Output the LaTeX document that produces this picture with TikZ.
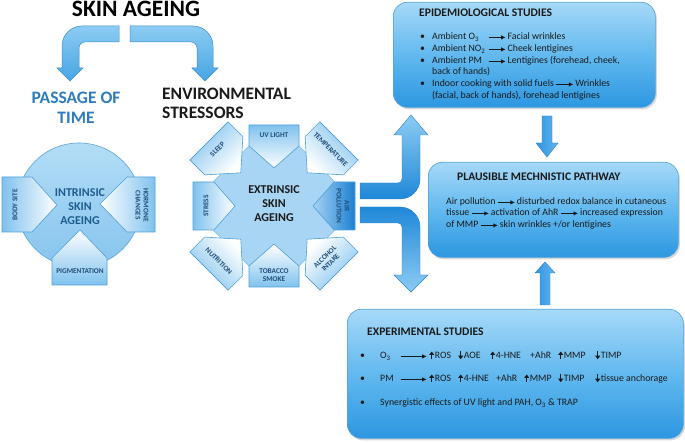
\documentclass[tikz,border=0pt]{standalone}
\usepackage{fontspec}
\setmainfont{Carlito}
\usetikzlibrary{calc,shapes.geometric,arrows.meta,shadows}
\definecolor{ptblue}{HTML}{2E7CC0}
\definecolor{intxt}{HTML}{1F5C8E}
\definecolor{plabc}{HTML}{1F4E79}
\definecolor{pentout}{HTML}{7FC2EE}
\definecolor{pentline}{HTML}{4D9FD8}
\definecolor{txtc}{HTML}{1A1A1A}
\newcommand\rarr[1][17]{\tikz[baseline=-0.55ex]\draw[line width=1pt,-{Latex[length=4.5pt,width=4.5pt]}] (0pt,0pt) -- (#1pt,0pt);}
\newcommand\uarr{\tikz[baseline=0pt]\draw[line width=1pt,-{Triangle[length=3.5pt,width=5pt]}] (0pt,-0.2pt) -- (0pt,7.5pt);\hspace{0.6pt}}
\newcommand\darr{\tikz[baseline=0pt]\draw[line width=1pt,-{Triangle[length=3.5pt,width=5pt]}] (0pt,7.5pt) -- (0pt,-0.2pt);\hspace{0.6pt}}
% #1 dir, #2 Rout, #3 style, #4 shading angle, #5 text angle, #6 text r, #7 name, #8 text, #9 half width
\newcommand\epent[9]{%
  \path[#3, shading angle=#4] ($(ext)+(#1:#2)+(#1+90:#9)$) -- ($(ext)+(#1:#2-21)+(#1+90:#9)$) -- ($(ext)+(#1:#2-21-#9+3)$) -- ($(ext)+(#1:#2-21)+(#1-90:#9)$) -- ($(ext)+(#1:#2)+(#1-90:#9)$) -- cycle;
  \node[plab, rotate=#5] (#7) at ($(ext)+(#1:#6)$) {#8};}
\begin{document}
\begin{tikzpicture}[x=1pt,y=1pt,
  pentb/.style={draw=pentline, line width=0.6pt, top color=pentout, bottom color=white},
  pentd/.style={draw=pentline, line width=0.6pt, top color={rgb,255:red,28;green,128;blue,210}, bottom color={rgb,255:red,165;green,211;blue,243}},
  plab/.style={font=\fontsize{7.3}{8}\selectfont\bfseries, text=plabc, align=center, inner sep=0},
  toparr/.style={draw={rgb,255:red,58;green,143;blue,208}, line width=0.5pt, top color={rgb,255:red,140;green,204;blue,242}, bottom color={rgb,255:red,70;green,165;blue,229}},
  sidearr/.style={draw={rgb,255:red,40;green,130;blue,205}, line width=0.4pt},
  vertarr/.style={draw={rgb,255:red,40;green,130;blue,205}, line width=0.4pt, left color={rgb,255:red,50;green,150;blue,225}, right color={rgb,255:red,95;green,180;blue,238}},
  box/.style={draw={rgb,255:red,79;green,163;blue,220}, line width=0.6pt, rounded corners=14pt, top color={rgb,255:red,166;green,217;blue,248}, bottom color={rgb,255:red,44;green,151;blue,225}, middle color={rgb,255:red,98;green,185;blue,239}, drop shadow={opacity=0.3,shadow xshift=1.5pt,shadow yshift=-2pt}, inner sep=0},
  btitle/.style={anchor=base west, font=\fontsize{11.6}{13}\selectfont\bfseries, inner sep=0, text=txtc},
  btxt/.style={anchor=base west, font=\fontsize{9.8}{11}\selectfont, inner sep=0, text=txtc},
  bigt/.style={font=\fontsize{17.5}{19}\selectfont\bfseries, inner sep=0}
]
\useasboundingbox (0,0) rectangle (685,443);
\fill[white] (0,0) rectangle (685,443);

% title and top arrows
\node[anchor=base, font=\fontsize{23.5}{25}\selectfont\bfseries, inner sep=0] (title) at (136,426) {SKIN AGEING};
\path[toparr] (119,417) -- (82,417) arc[start angle=90,end angle=180,radius=20] -- (62,375) -- (57,375) -- (70,362) -- (83,375) -- (79,375) -- (79,395) arc[start angle=180,end angle=90,radius=6] -- (119,401) -- cycle;
\path[toparr] (130,417) -- (193,417) arc[start angle=90,end angle=0,radius=20] -- (213,375) -- (218,375) -- (205,362) -- (192,375) -- (197,375) -- (197,395) arc[start angle=0,end angle=90,radius=6] -- (130,401) -- cycle;

\node[bigt, anchor=base, text=ptblue] (pt1) at (76,339) {PASSAGE OF};
\node[bigt, anchor=base, text=ptblue] (pt2) at (76,319) {TIME};
\node[bigt, anchor=base west, text=txtc] (es1) at (162,343) {ENVIRONMENTAL};
\node[bigt, anchor=base west, text=txtc] (es2) at (162,324) {STRESSORS};

% intrinsic
\node[circle, minimum size=124, inner sep=0, draw={rgb,255:red,90;green,167;blue,219}, line width=0.6pt, top color={rgb,255:red,179;green,221;blue,246}, bottom color={rgb,255:red,134;green,196;blue,238}] (intr) at (79,238) {};
\path[pentb, shading angle=90] (2,266) -- (32,266) -- (57,238) -- (32,211) -- (2,211) -- cycle;
\node[plab, rotate=90] (bs) at (15,238) {BODY SITE};
\path[pentb, shading angle=-90] (155,266) -- (127,266) -- (100,239) -- (127,211) -- (155,211) -- cycle;
\node[plab, rotate=-90] (hc) at (142,238) {HORMONE\\CHANGES};
\path[pentb, shading angle=180] (52,158) -- (52,185) -- (80,213) -- (107,185) -- (107,158) -- cycle;
\node[plab] (pg) at (80,172) {PIGMENTATION};
\node[align=center, font=\fontsize{12}{14}\selectfont\bfseries, text=intxt, inner sep=0] (intrtxt) at (80,236) {INTRINSIC\\SKIN\\AGEING};

% extrinsic
\node[regular polygon, regular polygon sides=8, minimum size=130, inner sep=0, draw={rgb,255:red,125;green,188;blue,232}, line width=0.5pt, fill={rgb,255:red,168;green,213;blue,243}] (ext) at (274,237) {};
\epent{90}{81}{pentb}{0}{0}{71}{uv}{UV LIGHT}{25}
\epent{45}{92}{pentb}{-45}{-45}{80}{temp}{TEMPERATURE}{27}
\epent{0}{81}{pentd}{-90}{-90}{69}{air}{AIR\\POLLUTION}{24}
\epent{-45}{92}{pentb}{-135}{45}{76}{alc}{ALCOHOL\\INTAKE}{27}
\epent{-90}{81}{pentb}{180}{0}{69}{tob}{TOBACCO\\SMOKE}{25}
\epent{-135}{92}{pentb}{135}{-45}{78}{nut}{NUTRITION}{27}
\epent{180}{81}{pentb}{90}{90}{68}{stress}{STRESS}{24}
\epent{135}{92}{pentb}{45}{45}{80}{sleep}{SLEEP}{27}
\node[align=center, font=\fontsize{12}{14}\selectfont\bfseries, text=txtc, inner sep=0] (exttxt) at (274,239) {EXTRINSIC\\SKIN\\AGEING};

% arrows from air pollution
\path[sidearr, top color={rgb,255:red,140;green,204;blue,243}, bottom color={rgb,255:red,31;green,136;blue,216}] (360,260) -- (398,260) arc[start angle=270,end angle=360,radius=4] -- (402,308) -- (394,308) -- (411,328) -- (428,308) -- (420,308) -- (420,264) arc[start angle=0,end angle=-90,radius=20] -- (360,244) -- cycle;
\path[sidearr, top color={rgb,255:red,31;green,136;blue,216}, bottom color={rgb,255:red,140;green,204;blue,243}] (360,236) -- (400,236) arc[start angle=90,end angle=0,radius=20] -- (420,168) -- (428,168) -- (411,151) -- (394,168) -- (402,168) -- (402,216) arc[start angle=0,end angle=90,radius=4] -- (360,220) -- cycle;

% boxes
\node[box, minimum width=262, minimum height=105, anchor=north west] (epi) at (393,441) {};
\node[box, minimum width=250, minimum height=95, anchor=north west] (mech) at (428,281) {};
\node[box, minimum width=336, minimum height=129, anchor=north west] (exp) at (347,134) {};

% vertical arrows
\path[vertarr] (542,327) -- (542,300) -- (536,300) -- (547,286) -- (558,300) -- (552,300) -- (552,327) -- cycle;
\path[vertarr] (540,138) -- (540,170) -- (535,170) -- (545,181) -- (555,170) -- (550,170) -- (550,138) -- cycle;

% epidemiological text
\node[btitle] (epit) at (419,426) {EPIDEMIOLOGICAL STUDIES};
\node[btxt] (eb1) at (420,403) {•};
\node[btxt] (eb2) at (420,391) {•};
\node[btxt] (eb3) at (420,379) {•};
\node[btxt] (eb4) at (420,356) {•};
\node[btxt] (el1) at (432,403) {\makebox[56pt][l]{Ambient O\textsubscript{3}}\rarr\hspace{1.5pt}Facial wrinkles};
\node[btxt] (el2) at (432,391) {\makebox[56pt][l]{Ambient NO\textsubscript{2}}\rarr\hspace{1.5pt}Cheek lentigines};
\node[btxt] (el3) at (432,379) {\makebox[56pt][l]{Ambient PM}\rarr\hspace{1.5pt}Lentigines (forehead, cheek,};
\node[btxt] (el4) at (432,368) {back of hands)};
\node[btxt] (el5) at (432,356) {Indoor cooking with solid fuels\hspace{2pt}\rarr\hspace{1.5pt}Wrinkles};
\node[btxt] (el6) at (432,344) {(facial, back of hands), forehead lentigines};

% mechanistic text
\node[btitle] (mecht) at (457,262) {PLAUSIBLE MECHNISTIC PATHWAY};
\node[btxt] (ml1) at (446,238) {Air pollution\hspace{2pt}\rarr\hspace{1.5pt}disturbed redox balance in cutaneous};
\node[btxt] (ml2) at (446,227) {tissue\hspace{2pt}\rarr\hspace{1.5pt}activation of AhR\hspace{2pt}\rarr\hspace{1.5pt}increased expression};
\node[btxt] (ml3) at (446,215) {of MMP\hspace{2pt}\rarr\hspace{1.5pt}skin wrinkles +/or lentigines};

% experimental text
\node[btitle] (expt) at (367,107) {EXPERIMENTAL STUDIES};
\node[btxt] (xb1) at (360,84) {•};
\node[btxt] (xb2) at (360,61) {•};
\node[btxt] (xb3) at (360,37) {•};
\node[btxt] (xl1) at (380,84) {\makebox[20pt][l]{O\textsubscript{3}}\rarr[26]\hspace{2pt}\makebox[29pt][l]{\uarr ROS}\makebox[32pt][l]{\darr AOE}\makebox[40pt][l]{\uarr 4-HNE}\makebox[28pt][l]{+AhR}\makebox[37pt][l]{\uarr MMP}\darr TIMP};
\node[btxt] (xl2) at (380,61) {\makebox[20pt][l]{PM}\rarr[26]\hspace{2pt}\makebox[29pt][l]{\uarr ROS}\makebox[38pt][l]{\uarr 4-HNE}\makebox[28pt][l]{+AhR}\makebox[34pt][l]{\uarr MMP}\makebox[37pt][l]{\darr TIMP}\darr tissue anchorage};
\node[btxt] (xl3) at (380,37) {Synergistic effects of UV light and PAH, O\textsubscript{3} \& TRAP};
\end{tikzpicture}
\end{document}
